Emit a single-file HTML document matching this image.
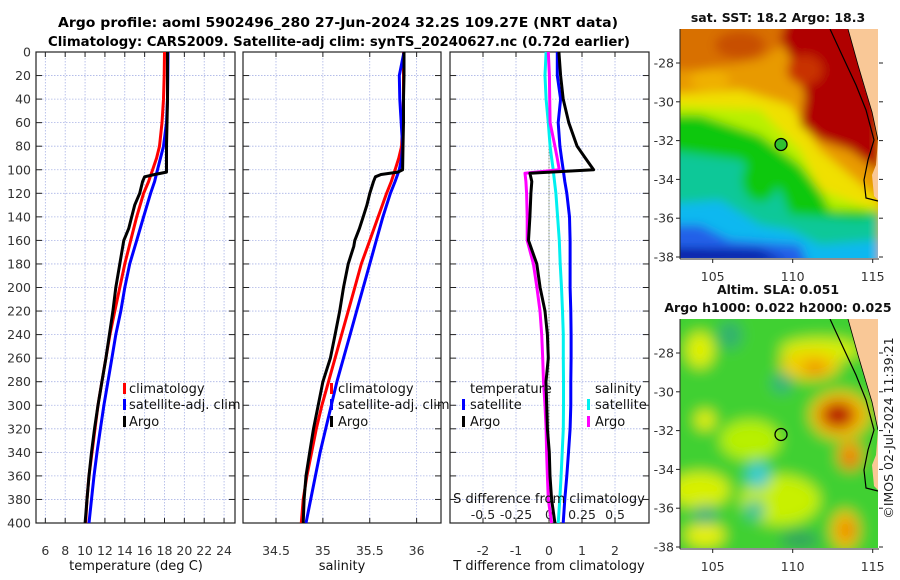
<!DOCTYPE html>
<html><head><meta charset="utf-8"><style>
html,body{margin:0;padding:0;background:#fff;}
svg{display:block;font-family:"DejaVu Sans","Liberation Sans",sans-serif;}
</style></head><body>
<svg id="fig" width="900" height="580" viewBox="0 0 900 580" xmlns="http://www.w3.org/2000/svg">
<defs>
<filter id="blr" x="-10%" y="-10%" width="120%" height="120%"><feGaussianBlur stdDeviation="5"/></filter>
<filter id="blr2" x="-20%" y="-20%" width="140%" height="140%"><feGaussianBlur stdDeviation="7"/></filter>
<clipPath id="m1c"><rect x="680" y="29" width="198" height="229"/></clipPath>
<clipPath id="m2c"><rect x="680" y="319" width="198" height="229"/></clipPath>
</defs>
<text x="338" y="27" text-anchor="middle" font-weight="bold" font-size="13" textLength="560" lengthAdjust="spacingAndGlyphs">Argo profile: aoml 5902496_280 27-Jun-2024 32.2S 109.27E (NRT data)</text>
<text x="339" y="46" text-anchor="middle" font-weight="bold" font-size="13" textLength="582" lengthAdjust="spacingAndGlyphs">Climatology: CARS2009. Satellite-adj clim: synTS_20240627.nc (0.72d earlier)</text>
<g id="panels"></g>
<g id="maps"></g>
</svg>
<script>
// ---- data ----
const depthStd = [0,20,40,60,80,90,100,110,120,140,160,180,200,220,240,260,280,300,320,340,360,380,400];
const tempClim = [18.0,17.97,17.9,17.75,17.5,17.2,16.8,16.4,15.9,15.2,14.6,14.0,13.5,13.0,12.5,12.1,11.7,11.3,11.0,10.7,10.4,10.2,10.05];
const tempSat = [18.35,18.33,18.3,18.2,17.9,17.6,17.3,17.0,16.6,15.9,15.2,14.5,14.0,13.6,13.1,12.7,12.3,11.9,11.55,11.2,10.9,10.65,10.4];
const salClim = [35.86,35.86,35.86,35.85,35.84,35.81,35.77,35.73,35.68,35.59,35.50,35.41,35.34,35.27,35.20,35.13,35.06,34.99,34.93,34.88,34.83,34.79,34.77];
const salSat = [35.865,35.815,35.82,35.835,35.85,35.84,35.815,35.77,35.72,35.64,35.57,35.50,35.43,35.36,35.29,35.22,35.15,35.09,35.03,34.97,34.92,34.87,34.82];
const depthArgo = [0,20,40,60,80,100,102,104,106,110,120,130,140,150,160,165,180,200,220,240,260,280,300,320,340,360,380,400];
const tempArgo = [18.3,18.3,18.3,18.25,18.2,18.2,18.2,17.0,16.0,15.8,15.5,15.0,14.7,14.4,13.9,13.8,13.5,13.1,12.8,12.45,12.1,11.7,11.3,10.95,10.65,10.4,10.2,10.0];
const salArgo = [35.865,35.865,35.86,35.86,35.855,35.85,35.80,35.62,35.56,35.54,35.50,35.47,35.43,35.39,35.34,35.33,35.27,35.22,35.18,35.13,35.08,35.00,34.95,34.90,34.86,34.82,34.80,34.79];
const tDiffSat = [0.25,0.25,0.35,0.28,0.33,0.38,0.43,0.48,0.54,0.62,0.64,0.64,0.64,0.66,0.67,0.67,0.66,0.66,0.64,0.59,0.54,0.48,0.43];
const sDiffSat = [-0.022,-0.03,-0.022,-0.005,0.008,0.02,0.032,0.042,0.052,0.065,0.078,0.085,0.095,0.102,0.108,0.108,0.11,0.11,0.108,0.1,0.092,0.082,0.07];
const depthDiff = [0,20,40,60,80,90,100,103,110,120,140,160,180,200,220,240,260,280,300,320,340,360,380,400];
const tDiffArgo = [0.3,0.35,0.43,0.6,0.85,1.1,1.35,-0.58,-0.52,-0.55,-0.58,-0.62,-0.37,-0.27,-0.12,-0.05,-0.02,-0.09,-0.07,-0.05,0.01,0.03,0.08,0.18];
const sDiffArgo = [-0.005,0.003,0.005,0.008,0.045,0.062,0.078,-0.182,-0.175,-0.17,-0.165,-0.165,-0.118,-0.092,-0.068,-0.055,-0.048,-0.042,-0.03,-0.022,-0.018,-0.012,-0.005,0.02];
const depthTicks = [0,20,40,60,80,100,120,140,160,180,200,220,240,260,280,300,320,340,360,380,400];
const tempTicks = [6,8,10,12,14,16,18,20,22,24];
const salTicks = [34.5,35,35.5,36];
const salTickLabels = ['34.5','35','35.5','36'];
const tdTicks = [-2,-1,0,1,2];
const sdTicks = [-0.5,-0.25,0,0.25,0.5];
const sdTickLabels = ['-0.5','-0.25','0','0.25','0.5'];
const latTicks = [-28,-30,-32,-34,-36,-38];
const lonTicks = [105,110,115];
const argoLon = 109.27, argoLat = -32.2;

const NS='http://www.w3.org/2000/svg';
function mk(tag, attrs, parent, text){const e=document.createElementNS(NS,tag);for(const k in attrs)e.setAttribute(k,attrs[k]);if(text!==undefined)e.textContent=text;parent.appendChild(e);return e;}
const P=document.getElementById('panels');
const TOP=52,BOT=523;
function py(d){return TOP+(BOT-TOP)*d/400;}
const panels=[
 {name:'temperature-panel',x0:36,x1:235,vmin:5.06,vmax:25.1},
 {name:'salinity-panel',x0:243,x1:441,vmin:34.148,vmax:36.26},
 {name:'difference-panel',x0:450,x1:649,vmin:-3.0,vmax:3.03}
];
function sx(p,v){return p.x0+(p.x1-p.x0)*(v-p.vmin)/(p.vmax-p.vmin);}
function line(p,vals,deps,color,name){
  const pts=vals.map((v,i)=>sx(p,v).toFixed(1)+','+py(deps[i]).toFixed(1)).join(' ');
  const el=mk('polyline',{points:pts,fill:'none',stroke:color,'stroke-width':3,'stroke-linejoin':'round'},P);
  
  
}
panels.forEach((p,pi)=>{
  const g=mk('g',{},P);
  
  
  const xt = pi===0?tempTicks:(pi===1?salTicks:tdTicks);
  const xl = pi===0?tempTicks.map(String):(pi===1?salTickLabels:tdTicks.map(String));
  xt.forEach((v,i)=>{
    const x=sx(p,v);
    mk('line',{x1:x,x2:x,y1:TOP,y2:BOT,stroke:'#aab4e6','stroke-width':0.8,'stroke-dasharray':'1.5,1.5'},g);
    mk('line',{x1:x,x2:x,y1:BOT,y2:BOT-5,stroke:'#222','stroke-width':1},g);
    mk('line',{x1:x,x2:x,y1:TOP,y2:TOP+5,stroke:'#222','stroke-width':1},g);
    const t=mk('text',{x:x,y:555,'text-anchor':'middle','font-size':12.5,fill:'#333'},g,xl[i]);
    
    
  });
  depthTicks.forEach(d=>{
    const y=py(d);
    mk('line',{x1:p.x0,x2:p.x1,y1:y,y2:y,stroke:'#aab4e6','stroke-width':0.8,'stroke-dasharray':'1.5,1.5'},g);
    mk('line',{x1:p.x0,x2:p.x0+6,y1:y,y2:y,stroke:'#222','stroke-width':1},g);
    mk('line',{x1:p.x1-6,x2:p.x1,y1:y,y2:y,stroke:'#222','stroke-width':1},g);
    if(pi===0){
      const t=mk('text',{x:31,y:y+4.5,'text-anchor':'end','font-size':12.5,fill:'#333'},g,String(d));
      
      
    }
  });
  mk('rect',{x:p.x0,y:TOP,width:p.x1-p.x0,height:BOT-TOP,fill:'none',stroke:'#222','stroke-width':1.2},g);
});
// zero line in diff panel
const pD=panels[2];
mk('line',{x1:sx(pD,0),x2:sx(pD,0),y1:py(70),y2:BOT,stroke:'#556b2f','stroke-width':1,'stroke-dasharray':'1,2'},P);
// S-diff secondary axis inside
sdTicks.forEach((v,i)=>{
  const x=sx(pD,v*4);
  const t=mk('text',{x:x,y:519,'text-anchor':'middle','font-size':12.5,fill:'#222'},P,sdTickLabels[i]);
  
  
});
// series
line(panels[0],tempClim,depthStd,'#ff0000','temp-climatology-line');
line(panels[0],tempSat,depthStd,'#0000ff','temp-satellite-line');
line(panels[0],tempArgo,depthArgo,'#000000','temp-argo-line');
line(panels[1],salClim,depthStd,'#ff0000','sal-climatology-line');
line(panels[1],salSat,depthStd,'#0000ff','sal-satellite-line');
line(panels[1],salArgo,depthArgo,'#000000','sal-argo-line');
line(pD,sDiffSat.map(v=>v*4),depthStd,'#00f0f0','s-diff-satellite-line');
line(pD,tDiffSat,depthStd,'#0000ff','t-diff-satellite-line');
line(pD,sDiffArgo.map(v=>v*4),depthDiff,'#ff00ff','s-diff-argo-line');
line(pD,tDiffArgo,depthDiff,'#000000','t-diff-argo-line');
</script>
<script>
// ---- static labels / legends ----
(function(){
const P=document.getElementById('panels');
function T(x,y,s,name,opt){const e=mk('text',Object.assign({x:x,y:y,'font-size':13,fill:'#111'},opt||{}),P,s);return e;}
function M(x,y,c){mk('rect',{x:x,y:y-10,width:3,height:11,fill:c},P);}
T(136,570,'temperature (deg C)','x-axis-title-temperature',{'text-anchor':'middle'});
T(342,570,'salinity','x-axis-title-salinity',{'text-anchor':'middle'});
T(549,570,'T difference from climatology','x-axis-title-t-diff',{'text-anchor':'middle'});
T(549,503,'S difference from climatology','s-diff-axis-title',{'text-anchor':'middle'});
[[123,129],[330,338]].forEach((q,i)=>{
  M(q[0],393,'#ff0000');T(q[1],393,'climatology','legend-climatology');
  M(q[0],409,'#0000ff');T(q[1],409,'satellite-adj. clim','legend-satellite-adj');
  M(q[0],426,'#000000');T(q[1],426,'Argo','legend-argo');
});
T(470,393,'temperature','legend-temperature-header');
M(462,409,'#0000ff');T(470,409,'satellite','legend-t-satellite');
M(462,426,'#000000');T(470,426,'Argo','legend-t-argo');
T(595,393,'salinity','legend-salinity-header');
M(587,409,'#00f0f0');T(595,409,'satellite','legend-s-satellite');
M(587,426,'#ff00ff');T(595,426,'Argo','legend-s-argo');
})();
// ---- maps ----
(function(){
const G=document.getElementById('maps');
function map(oy,name,title,kind){
  const g=mk('g',{},G);
  
  
  const lat=v=>oy+63+(-28-v)*19.4;
  const lon=v=>712.7+(v-105)*16;
  const cg=mk('g',{'clip-path':'url(#'+(oy?'m2c':'m1c')+')'},g);
  const bl=mk('g',{filter:'url(#'+(kind==='sst'?'blr':'blr2')+')'},cg);
  function poly(pts,c){mk('polygon',{points:pts.map(p=>p[0]+','+(p[1]+oy)).join(' '),fill:c},bl);}
  function blob(x,y,rx,ry,c){mk('ellipse',{cx:x,cy:y+oy,rx:rx,ry:ry,fill:c},bl);}
  if(kind==='sst'){
    mk('rect',{x:660,y:oy+10,width:240,height:270,fill:'#e89a00'},bl);
    poly([[660,10],[800,10],[790,40],[760,60],[700,70],[660,70]],'#d87000');
    blob(740,45,25,14,'#c85000');blob(710,80,20,10,'#f0b000');
    poly([[660,95],[740,90],[790,105],[820,150],[850,175],[880,200],[880,215],[820,215],[760,190],[700,140],[660,130]],'#f0e000');
    poly([[660,105],[760,110],[800,150],[820,190],[860,205],[880,210],[880,230],[800,220],[740,190],[660,150]],'#b8f000');
    poly([[660,115],[700,115],[760,135],[800,165],[820,190],[830,210],[860,210],[880,212],[880,270],[660,270]],'#10c810');
    poly([[660,150],[740,160],[780,190],[790,215],[860,220],[880,215],[880,270],[660,270]],'#10c898');
    poly([[660,205],[720,200],[760,225],[790,230],[820,245],[880,240],[880,270],[660,270]],'#10b8f0');
    poly([[660,225],[700,225],[730,240],[800,245],[810,270],[660,270]],'#2060e8');
    poly([[660,248],[760,250],[790,262],[660,262]],'#0010a0');
    blob(760,180,18,22,'#10c810');
    poly([[790,10],[860,10],[880,100],[880,172],[850,150],[820,140],[800,125],[805,95],[792,60],[780,40]],'#b00000');
    blob(805,70,18,15,'#c83000');
  } else {
    mk('rect',{x:660,y:oy+10,width:240,height:270,fill:'#40d030'},bl);
    blob(700,60,14,18,'#e0f000');blob(820,60,40,12,'#d8f000');
    blob(810,75,30,15,'#f0d000');blob(815,78,12,6,'#f08000');
    blob(840,125,30,24,'#f0c000');blob(838,125,18,14,'#d03000');blob(838,125,10,8,'#a80000');
    blob(850,165,12,15,'#f0a000');
    blob(705,130,10,10,'#e8f000');blob(750,150,30,20,'#b8f000');
    blob(700,200,30,18,'#d8f000');blob(780,210,40,25,'#c8f000');
    blob(705,245,20,12,'#e8f000');blob(845,240,14,20,'#f0c000');blob(847,240,8,10,'#f08000');
    blob(730,45,12,14,'#30b070');blob(782,93,10,10,'#30b080');blob(758,185,12,14,'#30c0c0');blob(758,185,6,7,'#40d8e0');
    blob(705,225,12,10,'#30b080');blob(755,220,10,10,'#30c0a0');
    blob(800,250,20,8,'#30a060');blob(850,170,8,8,'#f07000');
  }
  // land
  mk('polygon',{points:[[848,29],[878,29],[878,200],[874,196],[872,175],[876,165],[878,140],[872,112],[865,90],[858,65]].map(p=>p[0]+','+(p[1]+oy)).join(' '),fill:'#f9c897'},cg);
  mk('polyline',{points:[[830,29],[842,55],[856,85],[866,110],[874,140],[868,160],[864,180],[866,198],[878,201]].map(p=>p[0]+','+(p[1]+oy)).join(' '),fill:'none',stroke:'#000','stroke-width':1.2},cg);
  mk('polyline',{points:[[848,29],[858,65],[866,92],[872,112],[878,140]].map(p=>p[0]+','+(p[1]+oy)).join(' '),fill:'none',stroke:'#000','stroke-width':0.8},cg);
  // argo marker
  const c=mk('circle',{cx:lon(argoLon),cy:lat(argoLat),r:6,fill:kind==='sst'?'#30c030':'none',stroke:'#000','stroke-width':1.3},g);
  
  
  // axes
  mk('line',{x1:680,x2:680,y1:oy+29,y2:oy+259,stroke:'#222','stroke-width':1},g);
  mk('line',{x1:680,x2:879,y1:oy+259,y2:oy+259,stroke:'#222','stroke-width':1},g);
  latTicks.forEach(v=>{
    const y=lat(v);
    mk('line',{x1:676,x2:680,y1:y,y2:y,stroke:'#222'},g);
    mk('line',{x1:879,x2:883,y1:y,y2:y,stroke:'#222'},g);
    const t=mk('text',{x:674,y:y+4.5,'text-anchor':'end','font-size':12.5,fill:'#333'},g,String(v));
    
    
  });
  lonTicks.forEach(v=>{
    const x=lon(v);
    mk('line',{x1:x,x2:x,y1:oy+259,y2:oy+263,stroke:'#222'},g);
    const t=mk('text',{x:x,y:oy+281,'text-anchor':'middle','font-size':12.5,fill:'#333'},g,String(v));
    
    
  });
  title.forEach((s,i)=>{
    const t=mk('text',{x:778,y:oy+22-(title.length-1-i)*18,'text-anchor':'middle','font-size':12.5,'font-weight':'bold',fill:'#111'},g,s);
    
    
  });
}
map(0,'sst-map',['sat. SST: 18.2 Argo: 18.3'],'sst');
map(290,'sla-map',['Altim. SLA: 0.051','Argo h1000: 0.022 h2000: 0.025'],'sla');
const t=mk('text',{x:0,y:0,'font-size':12.5,fill:'#222','text-anchor':'middle',transform:'translate(893,428) rotate(-90)'},G,'©IMOS 02-Jul-2024 11:39:21');


})();
</script>
</body></html>
